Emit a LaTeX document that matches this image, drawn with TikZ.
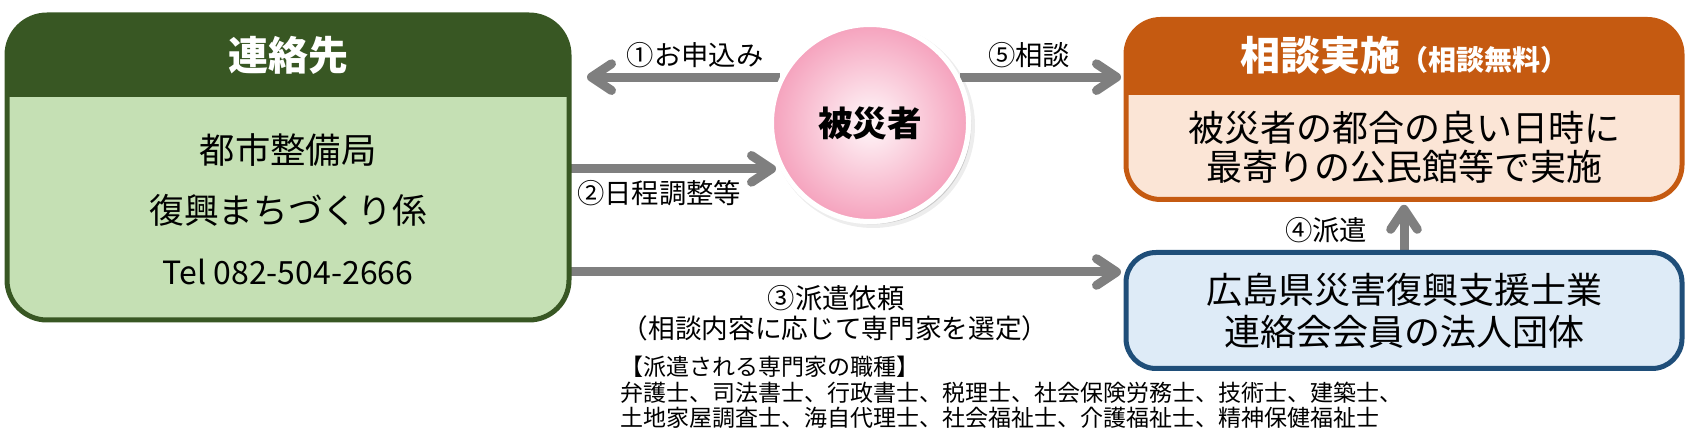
\documentclass[tikz,border=0pt]{standalone}
\usepackage{fontspec}
\setmainfont{Noto Sans CJK JP}
\usetikzlibrary{arrows.meta,fit,shadows}
\definecolor{dkgreen}{HTML}{385723}
\definecolor{ltgreen}{HTML}{C5E0B4}
\definecolor{dkorange}{HTML}{C55A11}
\definecolor{ltorange}{HTML}{FBE5D6}
\definecolor{dkblue}{HTML}{1F4E79}
\definecolor{ltblue}{HTML}{DEEBF7}
\definecolor{arrgray}{HTML}{7F7F7F}
\definecolor{pinkin}{HTML}{FFF8FA}
\definecolor{pinkout}{HTML}{F5A2BD}
\begin{document}
\begin{tikzpicture}[x=0.75pt,y=-0.75pt,
  arr/.style={draw=arrgray,line width=6.75pt,-{Straight Barb[length=15pt,width=20pt,round]}},
  boxfit/.style={inner sep=0pt,outer sep=0pt},
  lbl/.style={font=\fontsize{20.5}{24}\selectfont,inner sep=0pt,text=black},
  title/.style={font=\fontsize{30}{36}\selectfont\bfseries,inner sep=0pt,text=white},
  body/.style={font=\fontsize{27}{32}\selectfont,inner sep=0pt,text=black},
  small/.style={font=\fontsize{17.25}{20}\selectfont,inner sep=0pt,anchor=west,text=black},
  frame/.style={line width=3.75pt},
  victim/.style={circle,minimum size=147.75pt,inner sep=0pt,draw=white,line width=3.75pt,
      inner color=pinkin,outer color=pinkout,font=\fontsize{26}{30}\selectfont\bfseries}]
\useasboundingbox (0,0) rectangle (1690,448);
% box frames (geometry only)
\node[boxfit,fit={(7,15) (569,320)}] (lbox) {};
\node[boxfit,fit={(1126,19.5) (1682,199.5)}] (tbox) {};
\node[boxfit,fit={(1126,252.5) (1682,368.5)}] (bbox) {};
\coordinate (lhdr) at (0,97);
\coordinate (thdr) at (0,95);
\coordinate (a3) at (600,272);
% circle with soft shadow
\node[circle,inner sep=0pt,fill=black,fill opacity=0.07,minimum size=153pt] (shadowA) at (873,126) {};
\node[victim,drop shadow={shadow xshift=2pt,shadow yshift=-2pt,opacity=0.15,fill=black}] (circ) at (870,123) {被災者};
% arrows
\draw[arr,shorten >=13.5pt] (circ.153) -- (circ.153 -| lbox.east);
\draw[arr,shorten >=3.75pt] (circ.27) -- (circ.27 -| tbox.west);
\draw[arr,shorten >=3pt] (lbox.east |- circ.207) -- (circ.207);
\draw[arr,shorten >=3.75pt] (lbox.east |- a3) -- (bbox.west |- a3);
\draw[arr,shorten >=4pt] (bbox.north) -- (tbox.south);
% redraw circle on top of arrow starts
\node[victim] (circtop) at (circ) {被災者};
% left box
\fill[ltgreen,rounded corners=30pt] (lbox.north west) rectangle (lbox.south east);
\begin{scope}
\clip[rounded corners=30pt] (lbox.north west) rectangle (lbox.south east);
\fill[dkgreen] (lbox.north west) rectangle (lbox.east |- lhdr);
\end{scope}
\draw[dkgreen,frame,rounded corners=30pt] (lbox.north west) rectangle (lbox.south east);
% top right box
\fill[ltorange,rounded corners=26pt] (tbox.north west) rectangle (tbox.south east);
\begin{scope}
\clip[rounded corners=26pt] (tbox.north west) rectangle (tbox.south east);
\fill[dkorange] (tbox.north west) rectangle (tbox.east |- thdr);
\end{scope}
\draw[dkorange,frame,rounded corners=26pt] (tbox.north west) rectangle (tbox.south east);
% bottom right box
\draw[dkblue,fill=ltblue,frame,rounded corners=22.5pt] (bbox.north west) rectangle (bbox.south east);
% texts left box
\node[title] (ltitle) at (288,55) {連絡先};
\node[body,font=\fontsize{26.5}{30}\selectfont] (l1) at (288,150) {都市整備局};
\node[body,font=\fontsize{26}{30}\selectfont] (l2) at (288,210) {復興まちづくり係};
\node[body,font=\fontsize{24}{28}\selectfont] (l3) at (288,272) {Tel 082-504-2666};
% texts top box
\node[title] (ttitle) at (1404,55) {相談実施{\fontsize{21}{24}\selectfont（相談無料）}};
\node[body] (t1) at (1404,128) {被災者の都合の良い日時に};
\node[body] (t2) at (1404,167) {最寄りの公民館等で実施};
% texts bottom box
\node[body] (b1) at (1404,290) {広島県災害復興支援士業};
\node[body] (b2) at (1404,332) {連絡会会員の法人団体};
% arrow labels
\node[lbl] (lab1) at (695,55) {①お申込み};
\node[lbl] (lab5) at (1029,55) {⑤相談};
\node[lbl] (lab2) at (659,193) {②日程調整等};
\node[lbl] (lab4) at (1326,230) {④派遣};
\node[lbl] (lab3) at (836,298) {③派遣依頼};
\node[lbl,font=\fontsize{20}{24}\selectfont] (lab3b) at (835,328) {（相談内容に応じて専門家を選定）};
% list
\node[small] (s1) at (620,367) {【派遣される専門家の職種】};
\node[small] (s2) at (620,393) {弁護士、司法書士、行政書士、税理士、社会保険労務士、技術士、建築士、};
\node[small] (s3) at (620,418) {土地家屋調査士、海自代理士、社会福祉士、介護福祉士、精神保健福祉士};
\end{tikzpicture}
\end{document}
